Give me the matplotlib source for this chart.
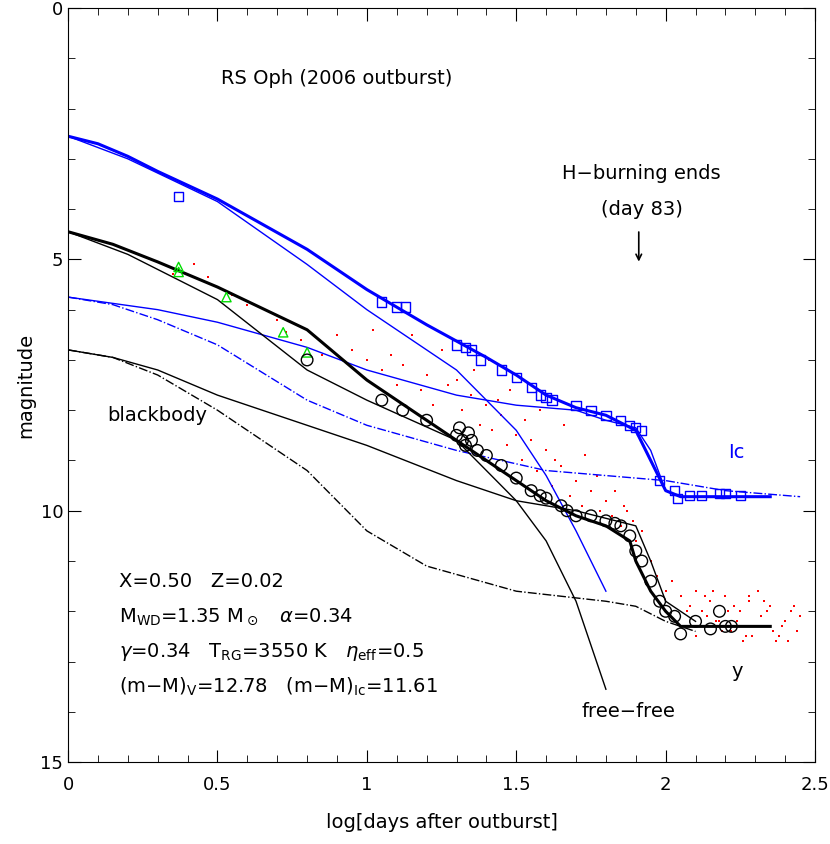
import matplotlib
matplotlib.use("Agg")
import matplotlib.pyplot as plt
from matplotlib.ticker import MultipleLocator

# model curves (log t, mag)
ic_total_x = [0, 0.1, 0.2, 0.3, 0.5, 0.8, 1.0, 1.2, 1.4, 1.5, 1.6, 1.7, 1.8, 1.9, 1.95, 2.0, 2.05, 2.2, 2.35]
ic_total_y = [2.55, 2.7, 2.95, 3.25, 3.8, 4.8, 5.6, 6.3, 6.95, 7.3, 7.7, 7.95, 8.1, 8.4, 9.0, 9.6, 9.72, 9.72, 9.72]
ic_ff_x = [0, 0.2, 0.5, 0.8, 1.0, 1.3, 1.5, 1.6, 1.7, 1.8]
ic_ff_y = [2.55, 3.0, 3.85, 5.1, 6.0, 7.2, 8.4, 9.3, 10.4, 11.6]
ic_bb_x = [0, 0.3, 0.5, 0.8, 1.0, 1.3, 1.5, 1.7, 1.8, 1.9, 1.95, 2.0, 2.05]
ic_bb_y = [5.75, 6.0, 6.25, 6.75, 7.2, 7.7, 7.9, 8.0, 8.2, 8.35, 8.8, 9.6, 9.72]
ic_dd_x = [0, 0.15, 0.3, 0.5, 0.8, 1.0, 1.3, 1.6, 2.0, 2.2, 2.45]
ic_dd_y = [5.75, 5.9, 6.2, 6.7, 7.8, 8.3, 8.8, 9.2, 9.4, 9.6, 9.72]

v_total_x = [0, 0.15, 0.3, 0.5, 0.8, 1.0, 1.2, 1.4, 1.5, 1.6, 1.7, 1.8, 1.88, 1.9, 1.95, 2.0, 2.05, 2.2, 2.35]
v_total_y = [4.45, 4.7, 5.05, 5.55, 6.4, 7.4, 8.2, 9.0, 9.4, 9.8, 10.1, 10.3, 10.6, 11.0, 11.6, 12.0, 12.3, 12.3, 12.3]
v_ff_x = [0, 0.2, 0.5, 0.8, 1.0, 1.3, 1.5, 1.6, 1.7, 1.8]
v_ff_y = [4.45, 4.9, 5.8, 7.2, 7.8, 8.6, 9.8, 10.6, 11.8, 13.55]
v_bb_x = [0, 0.15, 0.3, 0.5, 0.8, 1.0, 1.3, 1.5, 1.7, 1.9, 1.95, 2.0, 2.1]
v_bb_y = [6.8, 6.95, 7.2, 7.7, 8.3, 8.7, 9.4, 9.8, 10.0, 10.3, 11.0, 11.8, 12.2]
v_dd_x = [0, 0.15, 0.3, 0.5, 0.8, 1.0, 1.2, 1.5, 1.8, 1.9, 2.0, 2.1]
v_dd_y = [6.8, 6.95, 7.3, 8.0, 9.2, 10.4, 11.1, 11.6, 11.8, 11.9, 12.2, 12.4]

# observations
ic_obs_x = [0.37, 1.05, 1.1, 1.13, 1.3, 1.33, 1.35, 1.38, 1.45, 1.5, 1.55, 1.58, 1.6, 1.62, 1.7,
            1.75, 1.8, 1.85, 1.88, 1.9, 1.92, 1.98, 2.03, 2.04, 2.08, 2.12, 2.18, 2.2, 2.25]
ic_obs_y = [3.75, 5.85, 5.95, 5.95, 6.7, 6.75, 6.8, 7.0, 7.2, 7.35, 7.55, 7.7, 7.75, 7.8, 7.9,
            8.0, 8.1, 8.2, 8.3, 8.35, 8.4, 9.4, 9.6, 9.75, 9.7, 9.7, 9.65, 9.65, 9.7]
uv_x = [0.37, 0.37, 0.53, 0.72, 0.8]
uv_y = [5.15, 5.25, 5.75, 6.45, 6.85]
y_obs_x = [0.8, 1.05, 1.12, 1.2, 1.3, 1.31, 1.32, 1.33, 1.34, 1.35, 1.37, 1.4, 1.45, 1.5, 1.55, 1.58,
           1.6, 1.65, 1.67, 1.7, 1.75, 1.8, 1.83, 1.85, 1.88, 1.9, 1.92, 1.95, 1.98, 2.0, 2.03,
           2.05, 2.1, 2.15, 2.18, 2.2, 2.22]
y_obs_y = [7.0, 7.8, 8.0, 8.2, 8.5, 8.35, 8.6, 8.7, 8.45, 8.6, 8.8, 8.9, 9.1, 9.35, 9.6, 9.7,
           9.75, 9.9, 10.0, 10.1, 10.1, 10.2, 10.25, 10.3, 10.5, 10.8, 11.0, 11.4, 11.8, 12.0, 12.1,
           12.45, 12.2, 12.35, 12.0, 12.3, 12.3]
v_obs_x = [0.3, 0.35, 0.42, 0.47, 0.5, 0.55, 0.6, 0.7, 0.73, 0.78, 0.85, 0.9, 0.95, 1.0, 1.02,
           1.05, 1.08, 1.1, 1.12, 1.15, 1.18, 1.2, 1.22, 1.25, 1.27, 1.3, 1.32, 1.35, 1.38, 1.4,
           1.42, 1.45, 1.47, 1.5, 1.52, 1.55, 1.57, 1.6, 1.62, 1.65, 1.68, 1.7, 1.72, 1.75, 1.78,
           1.8, 1.82, 1.85, 1.87, 1.9, 1.92, 1.95, 1.97, 2.0, 2.02, 2.05, 2.08, 2.1, 2.12, 2.15,
           2.18, 2.2, 2.22, 2.25, 2.28, 2.3, 2.32, 2.35, 2.38, 2.4, 2.43, 2.45,
           2.06, 2.1, 2.14, 2.19, 2.24, 2.29, 2.34, 2.39, 2.44, 2.07, 2.13, 2.21, 2.27, 2.33, 2.41,
           1.36, 1.41, 1.44, 1.48, 1.53, 1.58, 1.63, 1.66, 1.73, 1.77, 1.83, 1.86, 1.89,
           2.16, 2.23, 2.26, 2.31, 2.36, 2.42, 2.17, 2.28, 2.37]
v_obs_y = [5.05, 5.3, 5.1, 5.35, 5.55, 5.7, 5.9, 6.2, 6.45, 6.6, 6.9, 6.5, 6.8, 7.0, 6.4,
           7.2, 6.9, 7.5, 7.1, 6.5, 7.6, 7.3, 7.9, 6.8, 7.5, 7.4, 8.0, 7.7, 8.3, 7.9,
           8.4, 8.1, 8.7, 8.5, 9.0, 8.6, 9.2, 8.8, 9.5, 9.1, 9.7, 9.4, 9.9, 9.6, 10.0,
           9.8, 10.1, 10.3, 10.0, 10.6, 10.4, 11.0, 11.3, 11.6, 11.4, 11.7, 11.9, 11.6, 12.0, 11.8,
           12.2, 11.7, 12.4, 12.0, 11.8, 12.3, 12.1, 11.9, 12.5, 12.2, 11.9, 12.1,
           12.3, 12.5, 12.1, 12.4, 12.2, 12.5, 12.0, 12.3, 12.4, 12.0, 11.7, 12.0, 12.5, 11.8, 12.6,
           7.2, 7.0, 7.8, 7.6, 8.2, 8.0, 9.0, 8.3, 8.9, 9.3, 9.6, 9.9, 10.2,
           11.6, 11.9, 12.6, 11.6, 12.4, 12.0, 12.2, 11.7, 12.6]

fig = plt.figure(figsize=(8.3, 8.44), dpi=100)
ax = fig.add_axes([0.082, 0.097, 0.9, 0.8935])

ax.scatter(v_obs_x, v_obs_y, s=4, color="red", marker="s", linewidths=0, zorder=1)
ax.plot(ic_total_x, ic_total_y, color="blue", lw=2.2)
ax.plot(ic_ff_x, ic_ff_y, color="blue", lw=1)
ax.plot(ic_bb_x, ic_bb_y, color="blue", lw=1)
ax.plot(ic_dd_x, ic_dd_y, color="blue", lw=1, ls="-.")
ax.plot(v_total_x, v_total_y, color="black", lw=2.2)
ax.plot(v_ff_x, v_ff_y, color="black", lw=1)
ax.plot(v_bb_x, v_bb_y, color="black", lw=1)
ax.plot(v_dd_x, v_dd_y, color="black", lw=1, ls="-.")
ax.scatter(ic_obs_x, ic_obs_y, s=45, marker="s", facecolors="none", edgecolors="blue", linewidths=1, zorder=3)
ax.scatter(uv_x, uv_y, s=45, marker="^", facecolors="none", edgecolors="#00dd00", linewidths=1, zorder=3)
ax.scatter(y_obs_x, y_obs_y, s=70, marker="o", facecolors="none", edgecolors="black", linewidths=1, zorder=3)

ax.set_xlim(0, 2.5)
ax.set_ylim(15, 0)
ax.set_xticks([0, 0.5, 1, 1.5, 2, 2.5])
ax.set_xticklabels(["0", "0.5", "1", "1.5", "2", "2.5"])
ax.xaxis.set_minor_locator(MultipleLocator(0.1))
ax.set_yticks([0, 5, 10, 15])
ax.set_yticklabels(["0", "5", "10", "15"])
ax.yaxis.set_minor_locator(MultipleLocator(1))
ax.tick_params(which="both", direction="in", top=True, right=True, labelsize=13)
ax.tick_params(which="major", length=9)
ax.tick_params(which="minor", length=5)
ax.tick_params(axis="x", pad=10)
ax.set_xlabel("log[days after outburst]", fontsize=14, labelpad=14)
ax.set_ylabel("magnitude", fontsize=14)

fs = 14
ax.text(0.9, 1.4, "RS Oph (2006 outburst)", fontsize=fs, ha="center", va="center")
ax.text(1.92, 3.3, "H\u2212burning ends", fontsize=fs, ha="center", va="center")
ax.text(1.92, 4.0, "(day 83)", fontsize=fs, ha="center", va="center")
ax.annotate("", xy=(1.91, 5.1), xytext=(1.91, 4.4),
            arrowprops=dict(arrowstyle="->", color="black", lw=1.2))
ax.text(0.13, 8.1, "blackbody", fontsize=fs, va="center")
ax.text(2.21, 8.85, "Ic", fontsize=fs, color="blue", va="center")
ax.text(2.22, 13.2, "y", fontsize=fs, va="center")
ax.text(1.72, 14.0, "free\u2212free", fontsize=fs, va="center")
ax.text(0.17, 11.4, "X=0.50   Z=0.02", fontsize=fs, va="center")
ax.text(0.17, 12.1, r"M$_{\rm WD}$=1.35 M$_\odot$   $\alpha$=0.34", fontsize=fs, va="center")
ax.text(0.17, 12.8, r"$\gamma$=0.34   T$_{\rm RG}$=3550 K   $\eta_{\rm eff}$=0.5", fontsize=fs, va="center")
ax.text(0.17, 13.5, r"(m$-$M)$_{\rm V}$=12.78   (m$-$M)$_{\rm Ic}$=11.61", fontsize=fs, va="center")

fig.savefig("out.png", dpi=100)
